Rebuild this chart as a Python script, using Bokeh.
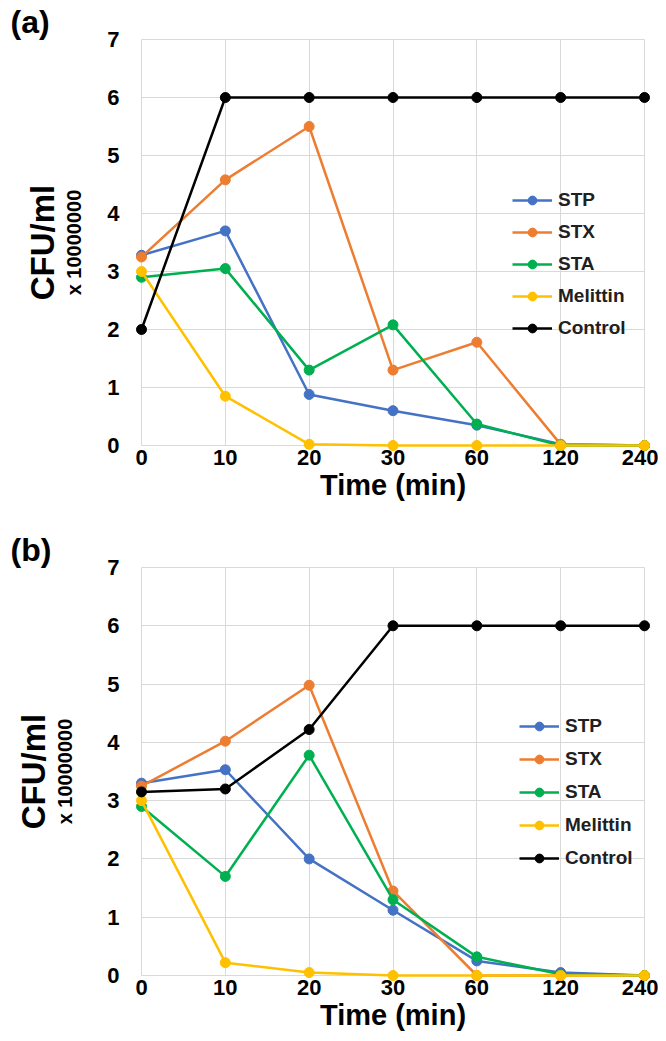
from bokeh.plotting import figure
from bokeh.layouts import column
from bokeh.models import Legend, LegendItem, FixedTicker, Range1d, LinearAxis
from bokeh.embed import file_html
from bokeh.resources import INLINE

time_labels = ["0", "10", "20", "30", "60", "120", "240"]
series_names = ["STP", "STX", "STA", "Melittin", "Control"]
series_colors = ["#4472C4", "#ED7D31", "#00B050", "#FFC000", "#000000"]

a_stp = [3.28, 3.70, 0.88, 0.60, 0.35, 0.02, 0.0]
a_stx = [3.25, 4.58, 5.50, 1.30, 1.78, 0.02, 0.0]
a_sta = [2.90, 3.05, 1.30, 2.08, 0.37, 0.0, 0.0]
a_mel = [3.00, 0.85, 0.02, 0.0, 0.0, 0.0, 0.0]
a_ctl = [2.00, 6.0, 6.0, 6.0, 6.0, 6.0, 6.0]

b_stp = [3.30, 3.53, 2.00, 1.12, 0.25, 0.05, 0.0]
b_stx = [3.25, 4.02, 4.98, 1.45, 0.0, 0.0, 0.0]
b_sta = [2.90, 1.70, 3.78, 1.30, 0.32, 0.02, 0.0]
b_mel = [3.00, 0.22, 0.05, 0.0, 0.0, 0.0, 0.0]
b_ctl = [3.15, 3.20, 4.22, 6.0, 6.0, 6.0, 6.0]

FONT = "Liberation Sans"
GRID = "#D9D9D9"


def make_panel(tag, data, height, border_top, border_bottom, legend_loc, legend_spacing,
               sub_standoff, cfu_standoff):
    p = figure(width=658, height=height, output_backend="svg", toolbar_location=None,
               x_range=Range1d(0, 6), y_range=Range1d(0, 7),
               min_border_left=141, min_border_right=14,
               min_border_top=border_top, min_border_bottom=border_bottom)
    p.background_fill_color = "white"
    p.border_fill_color = "white"
    p.outline_line_color = GRID
    p.xgrid.grid_line_color = GRID
    p.ygrid.grid_line_color = GRID

    p.title.text = tag
    p.title.align = "left"
    p.title.offset = -131
    p.title.standoff = 0
    p.title.text_font = FONT
    p.title.text_font_style = "bold"
    p.title.text_font_size = "32px"
    p.title.text_color = "black"

    p.xaxis.ticker = FixedTicker(ticks=list(range(len(time_labels))))
    p.xaxis.major_label_overrides = {i: t for i, t in enumerate(time_labels)}
    p.yaxis.ticker = FixedTicker(ticks=list(range(0, 8)))
    for ax in (p.xaxis[0], p.yaxis[0]):
        ax.axis_line_color = None
        ax.major_tick_line_color = None
        ax.minor_tick_line_color = None
        ax.major_tick_out = 0
        ax.major_label_text_font = FONT
        ax.major_label_text_font_style = "bold"
        ax.major_label_text_font_size = "22px"
        ax.major_label_text_color = "black"
        ax.axis_label_text_font = FONT
        ax.axis_label_text_font_style = "bold"
        ax.axis_label_text_color = "black"
    p.yaxis.major_label_standoff = 22
    p.xaxis.major_label_standoff = 4

    p.xaxis.axis_label = "Time (min)"
    p.xaxis.axis_label_text_font_size = "29px"
    p.xaxis.axis_label_standoff = 1

    p.yaxis.axis_label = "x 10000000"
    p.yaxis.axis_label_text_font_size = "20px"
    p.yaxis.axis_label_standoff = sub_standoff

    extra = LinearAxis(ticker=FixedTicker(ticks=[]), axis_line_color=None,
                       major_tick_line_color=None, minor_tick_line_color=None,
                       major_tick_out=0, minor_tick_out=0, major_label_standoff=0,
                       major_label_text_font_size="0px",
                       axis_label="CFU/ml", axis_label_text_font=FONT,
                       axis_label_text_font_style="bold", axis_label_text_font_size="33px",
                       axis_label_text_color="black", axis_label_standoff=cfu_standoff)
    p.add_layout(extra, "left")

    xs = list(range(len(time_labels)))
    items = []
    for name, color, ys in zip(series_names, series_colors, data):
        r1 = p.line(xs, ys, line_color=color, line_width=2.5, level="overlay")
        r2 = p.scatter(xs, ys, size=10, fill_color=color, line_color=color, level="overlay")
        items.append(LegendItem(label=name, renderers=[r1, r2]))

    leg = Legend(items=items, location=legend_loc, orientation="vertical",
                 glyph_width=40, glyph_height=22, label_height=22,
                 label_standoff=6, spacing=legend_spacing, padding=0, margin=0,
                 border_line_color=None, background_fill_alpha=0,
                 label_text_font=FONT, label_text_font_style="bold",
                 label_text_font_size="19px", label_text_color="#202020")
    p.add_layout(leg)
    return p


pa = make_panel("(a)", [a_stp, a_stx, a_sta, a_mel, a_ctl], 506, 39, 61,
                (371, 106), 10, 19, 0)
pb = make_panel("(b)", [b_stp, b_stx, b_sta, b_mel, b_ctl], 529, 61, 60,
                (378, 106), 11, 28, 0)

layout = column(pa, pb, spacing=0)
open("out.html", "w").write(file_html(layout, INLINE))
